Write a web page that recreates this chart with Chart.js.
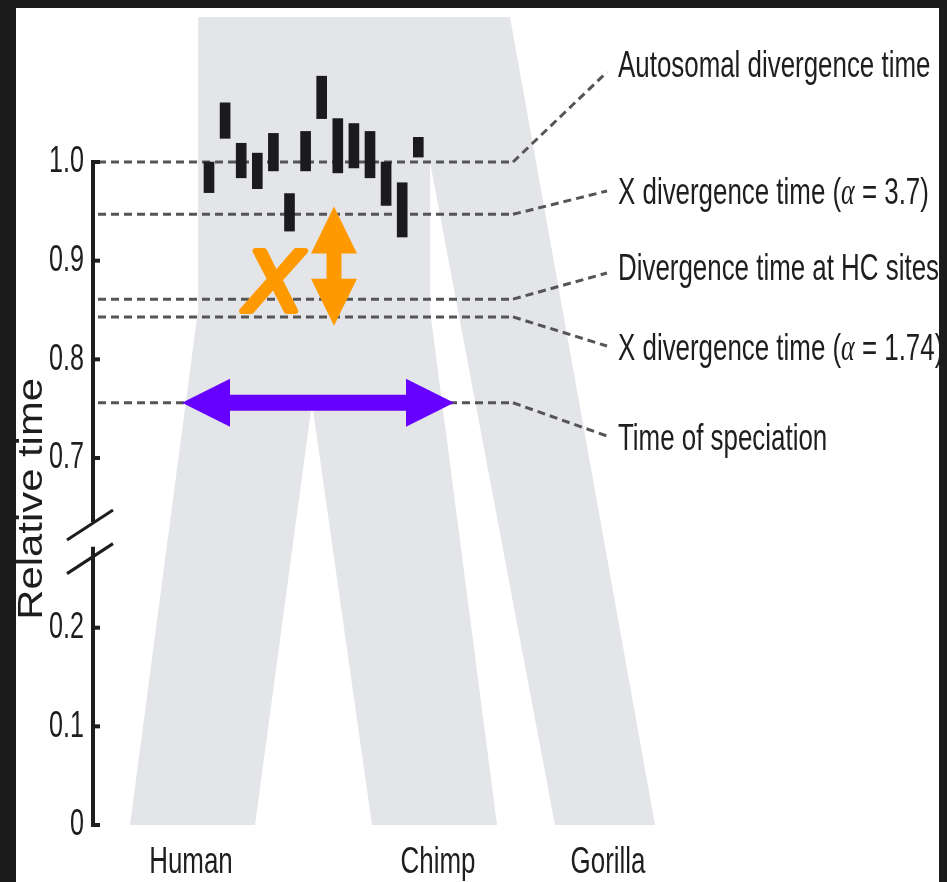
<!DOCTYPE html>
<html>
<head>
<meta charset="utf-8">
<title>Relative divergence times</title>
<style>
  html, body { margin: 0; padding: 0; background: #1c1c1c; overflow: hidden; }
  canvas { display: block; }
</style>
<script src="https://cdn.jsdelivr.net/npm/chart.js@4/dist/chart.umd.min.js"></script>
</head>
<body>
<canvas id="chart" width="947" height="882"></canvas>
<script>
// ---------------- data ----------------
const species = ['Human', 'Chimp', 'Gorilla'];

const tickValues = [0, 0.1, 0.2, 0.7, 0.8, 0.9, 1.0];
const tickLabels = ['0', '0.1', '0.2', '0.7', '0.8', '0.9', '1.0'];

const eventNames = [
  'Autosomal divergence time',
  'X divergence time (α = 3.7)',
  'Divergence time at HC sites',
  'X divergence time (α = 1.74)',
  'Time of speciation'
];
const eventTimes = [1.0, 0.947, 0.861, 0.843, 0.756];

// per-locus divergence estimates (relative time ranges)
const lociLow  = [0.969, 1.024, 0.984, 0.973, 0.991, 0.930, 0.991, 1.044, 0.989, 0.994, 0.984, 0.956, 0.924, 1.005];
const lociHigh = [1.000, 1.060, 1.019, 1.009, 1.029, 0.968, 1.031, 1.087, 1.044, 1.039, 1.031, 1.000, 0.979, 1.025];

// population history
const gorillaSplit = 1.0;
const ancestralWidening = 0.85;
const speciationTime = 0.756;

// shift of the X divergence (orange arrow span)
const xShiftSpan = [0.955, 0.834];

// ---------------- axis break ----------------
const AXIS_GAP = 0.328;      // relative time removed by the broken axis
const BREAK_AT = 0.45;
const toAxis = v => (v < BREAK_AT ? v : v - AXIS_GAP);

// ---------------- layout (horizontal units) ----------------
const TREE_TOP = 1.147;
const treeX = [105, 417, 562, 462, 337, 337, 404, 279, 219, 162, 37, 105];
const treeT = [TREE_TOP, TREE_TOP, 0, 0, gorillaSplit, ancestralWidening, 0, 0, speciationTime, 0, 0, ancestralWidening];
const SPECIES_LABEL_X = [98, 345, 515];

const LOCI_X0 = 116, LOCI_STEP = 16.1;
const DASH_X = [5, 420];
const CONNECT_X = 514;
const LABEL_X = 525;
const LABEL_ROWS_PX = [67, 194, 270, 350, 440];
const CONNECT_ROWS_PX = [72, 191, 273, 346, 436];
const SPECIATION_ARROW_X = [89, 361];
const XSHIFT_ARROW_X = 241;

// ---------------- styles ----------------
const FRAME_COLOR = '#1c1c1c';
const PANEL = { left: 16, top: 8, right: 939 };
const GRAY = '#e3e5e8';
const BAR_COLOR = '#1b1b1e';
const DASH_COLOR = '#555555';
const INK = '#1e1e1e';
const PURPLE = '#6600ff';
const ORANGE = '#ff9900';
const TEXT_SX = 0.70;
const TEXT_FONT = '37px "Liberation Sans", Arial, sans-serif';
const GREEK_FONT = 'italic 37px "Liberation Serif", "Times New Roman", serif';

function drawCondensed(ctx, text, x, y, align, sx) {
  ctx.save();
  ctx.translate(x, y);
  ctx.scale(sx, 1);
  const segs = [];
  text.split('α').forEach((p, i) => {
    if (i > 0) segs.push({ t: 'α', f: GREEK_FONT });
    if (p) segs.push({ t: p, f: TEXT_FONT });
  });
  let total = 0;
  segs.forEach(s => { ctx.font = s.f; s.w = ctx.measureText(s.t).width; total += s.w; });
  let cx = align === 'center' ? -total / 2 : (align === 'right' ? -total : 0);
  ctx.textAlign = 'left';
  segs.forEach(s => { ctx.font = s.f; ctx.fillText(s.t, cx, 0); cx += s.w; });
  ctx.restore();
}

function doubleArrow(ctx, ax, ay, bx, by, shaftHalf, headLen, headHalf) {
  const len = Math.hypot(bx - ax, by - ay);
  const ang = Math.atan2(by - ay, bx - ax);
  ctx.save();
  ctx.translate(ax, ay);
  ctx.rotate(ang);
  ctx.beginPath();
  ctx.moveTo(0, 0);
  ctx.lineTo(headLen, -headHalf);
  ctx.lineTo(headLen, -shaftHalf);
  ctx.lineTo(len - headLen, -shaftHalf);
  ctx.lineTo(len - headLen, -headHalf);
  ctx.lineTo(len, 0);
  ctx.lineTo(len - headLen, headHalf);
  ctx.lineTo(len - headLen, shaftHalf);
  ctx.lineTo(headLen, shaftHalf);
  ctx.lineTo(headLen, headHalf);
  ctx.closePath();
  ctx.fill();
  ctx.restore();
}

const figurePlugin = {
  id: 'figure',
  beforeDraw(chart) {
    const { ctx, width, height } = chart;
    ctx.save();
    ctx.fillStyle = FRAME_COLOR;
    ctx.fillRect(0, 0, width, height);
    ctx.fillStyle = '#ffffff';
    ctx.fillRect(PANEL.left, PANEL.top, PANEL.right - PANEL.left, height - PANEL.top);
    ctx.restore();
  },
  afterDatasetsDraw(chart) {
    const { ctx } = chart;
    const xs = chart.scales.x, ys = chart.scales.y;
    const X = u => xs.getPixelForValue(u);
    const Y = t => ys.getPixelForValue(toAxis(t));

    // connectors from each time line to its label
    ctx.save();
    ctx.strokeStyle = DASH_COLOR;
    ctx.lineWidth = 3;
    ctx.setLineDash([8, 5]);
    eventTimes.forEach((t, i) => {
      ctx.beginPath();
      ctx.moveTo(X(DASH_X[1]), Y(t));
      ctx.lineTo(X(CONNECT_X), CONNECT_ROWS_PX[i]);
      ctx.stroke();
    });
    ctx.restore();

    // broken vertical axis
    const ax = X(0);
    ctx.save();
    ctx.strokeStyle = INK;
    ctx.lineWidth = 4;
    ctx.lineCap = 'butt';
    ctx.beginPath();
    ctx.moveTo(ax, Y(1.0) - 2);
    ctx.lineTo(ax, Y(0.635));
    ctx.moveTo(ax, Y(0.282));
    ctx.lineTo(ax, Y(0) + 2);
    ctx.stroke();
    tickValues.forEach(v => {
      ctx.beginPath();
      ctx.moveTo(ax - 2, Y(v));
      ctx.lineTo(ax + 7, Y(v));
      ctx.stroke();
    });
    ctx.lineWidth = 3;
    [0.632, 0.27].forEach(v => {
      const cy = Y(v), cx = ax - 3;
      ctx.beginPath();
      ctx.moveTo(cx - 23, cy + 15);
      ctx.lineTo(cx + 23, cy - 15);
      ctx.stroke();
    });
    ctx.restore();

    // speciation arrow (purple) and X shift arrow (orange)
    ctx.save();
    ctx.fillStyle = PURPLE;
    const sy = Y(speciationTime);
    doubleArrow(ctx, X(SPECIATION_ARROW_X[0]), sy, X(SPECIATION_ARROW_X[1]), sy, 8, 48, 24);
    ctx.fillStyle = ORANGE;
    const ox = X(XSHIFT_ARROW_X);
    const oy1 = Y(xShiftSpan[0]), oy2 = Y(xShiftSpan[1]);
    doubleArrow(ctx, ox, oy1, ox, oy2, 7.5, 47, 23);
    // the X chromosome marker
    ctx.font = 'italic 88px "Liberation Sans", Arial, sans-serif';
    ctx.textAlign = 'center';
    ctx.textBaseline = 'middle';
    ctx.strokeStyle = ORANGE;
    ctx.lineWidth = 6;
    ctx.lineJoin = 'round';
    ctx.lineCap = 'round';
    const mx = ox - 61, my = (oy1 + oy2) / 2 + 20;
    ctx.fillText('X', mx, my);
    ctx.strokeText('X', mx, my);
    ctx.restore();

    // text
    ctx.save();
    ctx.fillStyle = INK;
    ctx.textBaseline = 'middle';
    tickValues.forEach((v, i) => drawCondensed(ctx, tickLabels[i], ax - 9, Y(v), 'right', 0.68));
    eventNames.forEach((name, i) => drawCondensed(ctx, name, X(LABEL_X), LABEL_ROWS_PX[i], 'left', TEXT_SX));
    ctx.textBaseline = 'alphabetic';
    species.forEach((name, i) => {
      drawCondensed(ctx, name, X(SPECIES_LABEL_X[i]), Y(0) + 48, 'center', TEXT_SX);
    });
    // axis title
    ctx.save();
    ctx.translate(42, (Y(0.7) + Y(0.2)) / 2 - 44);
    ctx.rotate(-Math.PI / 2);
    ctx.scale(1.1, 0.92);
    ctx.font = '38px "Liberation Sans", Arial, sans-serif';
    ctx.textAlign = 'center';
    ctx.textBaseline = 'alphabetic';
    ctx.fillText('Relative time', 0, 0);
    ctx.restore();
    ctx.restore();
  },
  afterDraw(chart) {
    const { ctx, width, height } = chart;
    ctx.save();
    ctx.fillStyle = FRAME_COLOR;
    ctx.fillRect(0, 0, width, PANEL.top);
    ctx.fillRect(0, 0, PANEL.left, height);
    ctx.fillRect(PANEL.right, 0, width - PANEL.right, height);
    ctx.restore();
  }
};

new Chart(document.getElementById('chart'), {
  type: 'line',
  data: {
    datasets: [
      {
        type: 'line',
        label: 'Populations',
        data: treeX.map((x, i) => ({ x, y: toAxis(treeT[i]) })),
        fill: 'shape',
        backgroundColor: GRAY,
        borderColor: 'rgba(0,0,0,0)',
        borderWidth: 0,
        pointRadius: 0,
        tension: 0,
        order: 3
      },
      ...eventTimes.map((t, i) => ({
        type: 'line',
        label: eventNames[i],
        data: [{ x: DASH_X[0], y: toAxis(t) }, { x: DASH_X[1], y: toAxis(t) }],
        borderColor: DASH_COLOR,
        borderWidth: 3,
        borderDash: [8, 5],
        pointRadius: 0,
        fill: false,
        order: 2
      })),
      {
        type: 'bar',
        label: 'Loci',
        data: lociLow.map((lo, i) => ({ x: LOCI_X0 + i * LOCI_STEP, y: [toAxis(lo), toAxis(lociHigh[i])] })),
        backgroundColor: BAR_COLOR,
        borderWidth: 0,
        barThickness: 10,
        order: 1
      }
    ]
  },
  options: {
    responsive: false,
    animation: false,
    devicePixelRatio: 1,
    events: [],
    layout: { padding: { left: 93, right: 10, top: 16, bottom: 57 } },
    scales: {
      x: { type: 'linear', min: 0, max: 844, display: false, offset: false },
      y: { type: 'linear', min: 0, max: 0.82, display: false }
    },
    plugins: { legend: { display: false }, tooltip: { enabled: false } }
  },
  plugins: [figurePlugin]
});
</script>
</body>
</html>
